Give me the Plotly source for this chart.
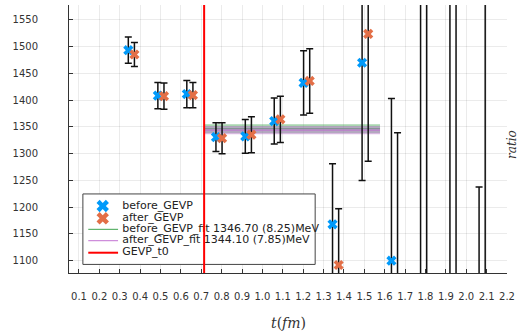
import plotly.graph_objects as go

# Effective-mass points before/after the GEVP rotation (t in fm, mass in MeV)
t_before = [0.342, 0.487, 0.629, 0.772, 0.916, 1.058, 1.202, 1.344, 1.489, 1.633, 1.776, 1.920, 2.063]
m_before = [1493.5, 1408.5, 1411.5, 1331.0, 1332.5, 1361.0, 1432.5, 1168.0, 1470.0, 1100.0, 900.0, 880.0, 950.0]
e_before = [24.5, 24.5, 25.5, 27.0, 31.5, 43.0, 60.0, 113.0, 220.0, 303.0, 800.0, 850.0, 288.0]

t_after = [0.372, 0.517, 0.659, 0.802, 0.946, 1.088, 1.232, 1.374, 1.519, 1.663, 1.806, 1.950, 2.093]
m_after = [1485.5, 1407.5, 1409.5, 1329.0, 1335.5, 1364.3, 1436.0, 1092.0, 1524.0, 1000.0, 870.0, 900.0, 920.0]
e_after = [22.5, 24.5, 23.5, 29.0, 33.5, 43.3, 60.3, 105.0, 238.0, 339.0, 850.0, 850.0, 800.0]

# Plateau fits
fit_range = [0.714, 1.577]
fit_before = 1346.70
fit_before_err = 8.25
fit_after = 1344.10
fit_after_err = 7.85

t0 = 0.714

x_ticks = [0.1, 0.2, 0.3, 0.4, 0.5, 0.6, 0.7, 0.8, 0.9, 1.0, 1.1,
           1.2, 1.3, 1.4, 1.5, 1.6, 1.7, 1.8, 1.9, 2.0, 2.1, 2.2]
y_ticks = [1100, 1150, 1200, 1250, 1300, 1350, 1400, 1450, 1500, 1550]
x_range = [0.051, 2.2]
y_range = [1077, 1578]

BLUE = "#009AFA"
ORANGE = "#E36F47"
GREEN = "#3EA44E"
PURPLE = "#C271D2"
FONT = "DejaVu Sans"

fig = go.Figure()


def band(center, err, color, fillcolor):
    x0, x1 = fit_range
    fig.add_trace(go.Scatter(
        x=[x0, x1, x1, x0, x0],
        y=[center + err, center + err, center - err, center - err, center + err],
        mode="lines", fill="toself", fillcolor=fillcolor,
        line=dict(width=0), hoverinfo="skip", showlegend=False))
    fig.add_trace(go.Scatter(
        x=fit_range, y=[center, center], mode="lines",
        line=dict(color=color, width=1), showlegend=False))


band(fit_before, fit_before_err, GREEN, "rgba(62,164,78,0.45)")
band(fit_after, fit_after_err, PURPLE, "rgba(194,113,210,0.45)")

for xs, ys, es, col in [(t_before, m_before, e_before, BLUE),
                        (t_after, m_after, e_after, ORANGE)]:
    fig.add_trace(go.Scatter(
        x=xs, y=ys, mode="markers",
        marker=dict(symbol="x", size=9, color=col, line=dict(width=0)),
        error_y=dict(type="data", array=es, color="#111111", thickness=1.5, width=3.5),
        showlegend=False))

# Legend drawn on an overlay axis pair spanning the plot area
lx0, lx1, ly0, ly1 = 0.0317, 0.562, 0.032, 0.295
fig.add_trace(go.Scatter(
    x=[lx0, lx1, lx1, lx0, lx0], y=[ly1, ly1, ly0, ly0, ly1],
    xaxis="x2", yaxis="y2", mode="lines", fill="toself", fillcolor="white",
    line=dict(color="#444444", width=1), hoverinfo="skip", showlegend=False))

rows = [0.250, 0.204, 0.163, 0.1205, 0.0757]
labels = ["before_GEVP", "after_GEVP",
          f"before_GEVP_fit {fit_before:.2f} ({fit_before_err:.2f})MeV",
          f"after_GEVP_fit {fit_after:.2f} ({fit_after_err:.2f})MeV",
          "GEVP_t0"]
for r, col in zip(rows[:2], [BLUE, ORANGE]):
    fig.add_trace(go.Scatter(
        x=[0.077], y=[r], xaxis="x2", yaxis="y2", mode="markers",
        marker=dict(symbol="x", size=11, color=col, line=dict(width=0)),
        showlegend=False))
for r, col, w in zip(rows[2:], [GREEN, PURPLE, "#FF0000"], [1, 1, 2]):
    fig.add_trace(go.Scatter(
        x=[0.044, 0.112], y=[r, r], xaxis="x2", yaxis="y2", mode="lines",
        line=dict(color=col, width=w), showlegend=False))
fig.add_trace(go.Scatter(
    x=[0.1217] * len(rows), y=rows, xaxis="x2", yaxis="y2", mode="text",
    text=labels, textposition="middle right", hoverinfo="skip",
    textfont=dict(family=FONT, size=11, color="#222222"), showlegend=False))

# GEVP t0 marker line
fig.add_shape(type="line", x0=t0, x1=t0, y0=0, y1=1, xref="x", yref="y domain",
              line=dict(color="#FF0000", width=2), layer="above")

axis_common = dict(
    showline=True, linecolor="#333333", linewidth=1,
    ticks="inside", ticklen=4, tickcolor="#333333",
    showgrid=True, gridcolor="rgba(0,0,0,0.08)", gridwidth=1,
    zeroline=False, mirror=False,
    tickfont=dict(family=FONT, size=10, color="#333333"),
)

fig.update_layout(
    width=520, height=331,
    margin=dict(l=69, r=10, t=5, b=58),
    paper_bgcolor="white", plot_bgcolor="white",
    showlegend=False,
    xaxis=dict(range=x_range, tickvals=x_ticks,
               ticktext=[f"{v:.1f}" for v in x_ticks],
               ticklabelstandoff=14, **axis_common),
    yaxis=dict(range=y_range, tickvals=y_ticks,
               ticklabelstandoff=28, **axis_common),
    xaxis2=dict(overlaying="x", range=[0, 1], visible=False),
    yaxis2=dict(overlaying="y", range=[0, 1], visible=False),
)

fig.add_annotation(x=0.5, y=-0.187, xref="paper", yref="paper",
                   text="<i>t</i>(<i>fm</i>)", showarrow=False,
                   xanchor="center", yanchor="middle",
                   font=dict(family="DejaVu Serif", size=14, color="#333333"))
fig.add_annotation(x=1.0115, y=0.478, xref="paper", yref="paper",
                   text="<i>ratio</i>", showarrow=False, textangle=-90,
                   xanchor="center", yanchor="middle", borderpad=0,
                   font=dict(family="DejaVu Serif", size=12, color="#333333"))

fig.write_html("out.html")
